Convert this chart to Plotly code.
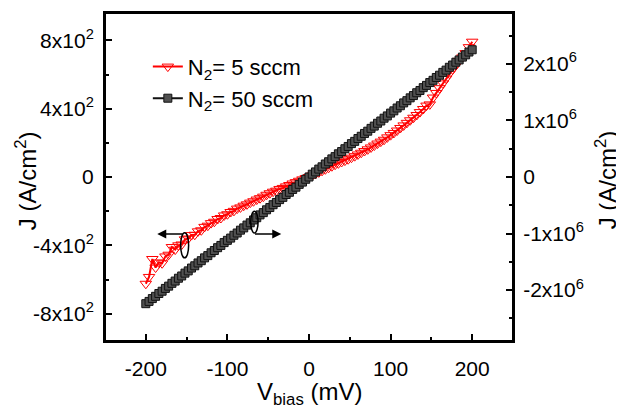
import plotly.graph_objects as go

# ---------------- data ----------------
v_bias = [-200, -196, -192, -188, -184, -180, -176, -172, -168, -164,
          -160, -156, -152, -148, -144, -140, -136, -132, -128, -124,
          -120, -116, -112, -108, -104, -100, -96, -92, -88, -84,
          -80, -76, -72, -68, -64, -60, -56, -52, -48, -44,
          -40, -36, -32, -28, -24, -20, -16, -12, -8, -4,
          0, 4, 8, 12, 16, 20, 24, 28, 32, 36,
          40, 44, 48, 52, 56, 60, 64, 68, 72, 76,
          80, 84, 88, 92, 96, 100, 104, 108, 112, 116,
          120, 124, 128, 132, 136, 140, 144, 148, 152, 156,
          160, 164, 168, 172, 176, 180, 184, 188, 192, 196, 200]

# N2 = 5 sccm, J in A/cm^2 (left axis)
j_5sccm = [-625, -585, -480, -530, -500, -505, -465, -455, -410, -425,
           -400, -395, -365, -360, -340, -338, -318, -312, -292, -285,
           -270, -262, -246, -240, -225, -218, -205, -198, -185, -178,
           -168, -160, -150, -142, -132, -124, -115, -104, -95, -86,
           -80, -70, -64, -55, -47, -38, -30, -22, -14, -7,
           0, 9, 18, 27, 36, 45, 54, 63, 72, 80,
           88, 96, 104, 113, 122, 132, 142, 152, 162, 173,
           184, 196, 207, 218, 232, 245, 258, 272, 287, 302,
           317, 332, 347, 363, 380, 398, 418, 425, 465, 492,
           520, 548, 576, 605, 630, 655, 680, 700, 725, 760, 792]

# N2 = 50 sccm, J in units of 1e6 A/cm^2 (right axis)
j_50sccm_e6 = [-2.24, -2.20, -2.15, -2.11, -2.06, -2.02, -1.97, -1.93, -1.88, -1.84,
               -1.79, -1.75, -1.70, -1.66, -1.61, -1.57, -1.52, -1.48, -1.43, -1.39,
               -1.34, -1.30, -1.25, -1.21, -1.16, -1.12, -1.08, -1.03, -0.99, -0.94,
               -0.90, -0.85, -0.81, -0.76, -0.72, -0.67, -0.63, -0.58, -0.54, -0.49,
               -0.45, -0.40, -0.36, -0.31, -0.27, -0.22, -0.18, -0.13, -0.09, -0.04,
               0.00, 0.05, 0.09, 0.14, 0.18, 0.23, 0.27, 0.32, 0.36, 0.41,
               0.45, 0.50, 0.54, 0.59, 0.63, 0.68, 0.72, 0.77, 0.81, 0.86,
               0.90, 0.95, 0.99, 1.04, 1.08, 1.13, 1.17, 1.22, 1.26, 1.31,
               1.35, 1.40, 1.44, 1.49, 1.53, 1.58, 1.62, 1.67, 1.71, 1.76,
               1.80, 1.85, 1.89, 1.94, 1.98, 2.03, 2.07, 2.12, 2.16, 2.21, 2.25]
j_50sccm = [v * 1e6 for v in j_50sccm_e6]

x_ticks = [-200, -100, 0, 100, 200]
x_text = ["-200", "-100", "0", "100", "200"]
x_minor = [-150, -50, 50, 150]
yl_ticks = [-800, -400, 0, 400, 800]
yl_text = ["-8x10<sup>2</sup>", "-4x10<sup>2</sup>", "0", "4x10<sup>2</sup>", "8x10<sup>2</sup>"]
yl_minor = [-600, -200, 200, 600]
yr_ticks = [-2e6, -1e6, 0, 1e6, 2e6]
yr_text = ["-2x10<sup>6</sup>", "-1x10<sup>6</sup>", "0", "1x10<sup>6</sup>", "2x10<sup>6</sup>"]
yr_minor = [-2.5e6, -1.5e6, -0.5e6, 0.5e6, 1.5e6, 2.5e6]

FONT = "Liberation Sans, Arial, sans-serif"

fig = go.Figure()
fig.add_trace(go.Scatter(
    x=v_bias, y=j_5sccm, name="N<sub>2</sub>= 5 sccm", mode="lines+markers",
    line=dict(color="#ff0000", width=2),
    marker=dict(symbol="triangle-down-open", size=10, color="#ff0000",
                line=dict(color="#ff0000", width=1)),
    yaxis="y"))
fig.add_trace(go.Scatter(
    x=v_bias, y=j_50sccm, name="N<sub>2</sub>= 50 sccm", mode="lines+markers",
    line=dict(color="#111111", width=2),
    marker=dict(symbol="square", size=8, color="#505050",
                line=dict(color="#111111", width=1)),
    yaxis="y2"))

axis_common = dict(showline=True, linecolor="black", linewidth=2, ticks="inside",
                   tickwidth=1.5, ticklen=7, tickcolor="black", showgrid=False,
                   zeroline=False, automargin=False,
                   tickfont=dict(family=FONT, size=21, color="black"))

# the page body adds an 8px offset; the figure is sized so the plot lands where the reference has it
fig.update_layout(
    width=616, height=404, paper_bgcolor="white", plot_bgcolor="white",
    margin=dict(l=97, r=111, t=5, b=71),
    font=dict(family=FONT, color="black"),
    xaxis=dict(range=[-250, 250], tickvals=x_ticks, ticktext=x_text, mirror=True,
               minor=dict(tickvals=x_minor, ticks="inside", ticklen=4, tickwidth=1.5, tickcolor="black"),
               ticklabelstandoff=8, **axis_common),
    yaxis=dict(range=[-960, 960], tickvals=yl_ticks, ticktext=yl_text,
               minor=dict(tickvals=yl_minor, ticks="inside", ticklen=4, tickwidth=1.5, tickcolor="black"),
               ticklabelstandoff=5, **axis_common),
    yaxis2=dict(range=[-2.9e6, 2.9e6], tickvals=yr_ticks, ticktext=yr_text,
                overlaying="y", side="right",
                minor=dict(tickvals=yr_minor, ticks="inside", ticklen=4, tickwidth=1.5, tickcolor="black"),
                ticklabelstandoff=4, **axis_common),
    legend=dict(x=0.105, y=0.9, xanchor="left", yanchor="top", bgcolor="rgba(0,0,0,0)",
                font=dict(family=FONT, size=22, color="black"), itemwidth=30,
                tracegroupgap=0),
    showlegend=True,
)

# axis titles
fig.add_annotation(text="V<sub>bias</sub> (mV)", xref="paper", yref="paper", x=0.5, y=-0.16,
                   xanchor="center", yanchor="middle", showarrow=False,
                   font=dict(family=FONT, size=24, color="black"))
fig.add_annotation(text="J (A/cm<sup>2</sup>)", xref="paper", yref="paper", x=-0.194, y=0.49,
                   xanchor="center", yanchor="middle", showarrow=False, textangle=-90,
                   font=dict(family=FONT, size=24, color="black"))
fig.add_annotation(text="J (A/cm<sup>2</sup>)", xref="paper", yref="paper", x=1.228, y=0.49,
                   xanchor="center", yanchor="middle", showarrow=False, textangle=-90,
                   font=dict(family=FONT, size=24, color="black"))

# plot frame
fig.add_shape(type="rect", xref="paper", yref="paper", x0=0, x1=1, y0=0, y1=1,
              line=dict(color="black", width=2), layer="above")
# ellipses marking which curve belongs to which axis
fig.add_shape(type="circle", xref="x", yref="y", x0=-157.3, x1=-147.5, y0=-473, y1=-327,
              line=dict(color="black", width=1.5))
fig.add_shape(type="circle", xref="x", yref="y", x0=-71.4, x1=-62.4, y0=-328, y1=-200,
              line=dict(color="black", width=1.5))
# arrows
fig.add_annotation(x=-186, y=-334, ax=-153, ay=-334, xref="x", yref="y", axref="x", ayref="y",
                   text="", showarrow=True, arrowhead=2, arrowsize=1.2, arrowwidth=1.5, arrowcolor="black")
fig.add_annotation(x=-34, y=-334, ax=-68, ay=-334, xref="x", yref="y", axref="x", ayref="y",
                   text="", showarrow=True, arrowhead=2, arrowsize=1.2, arrowwidth=1.5, arrowcolor="black")

fig.write_html("out.html")
